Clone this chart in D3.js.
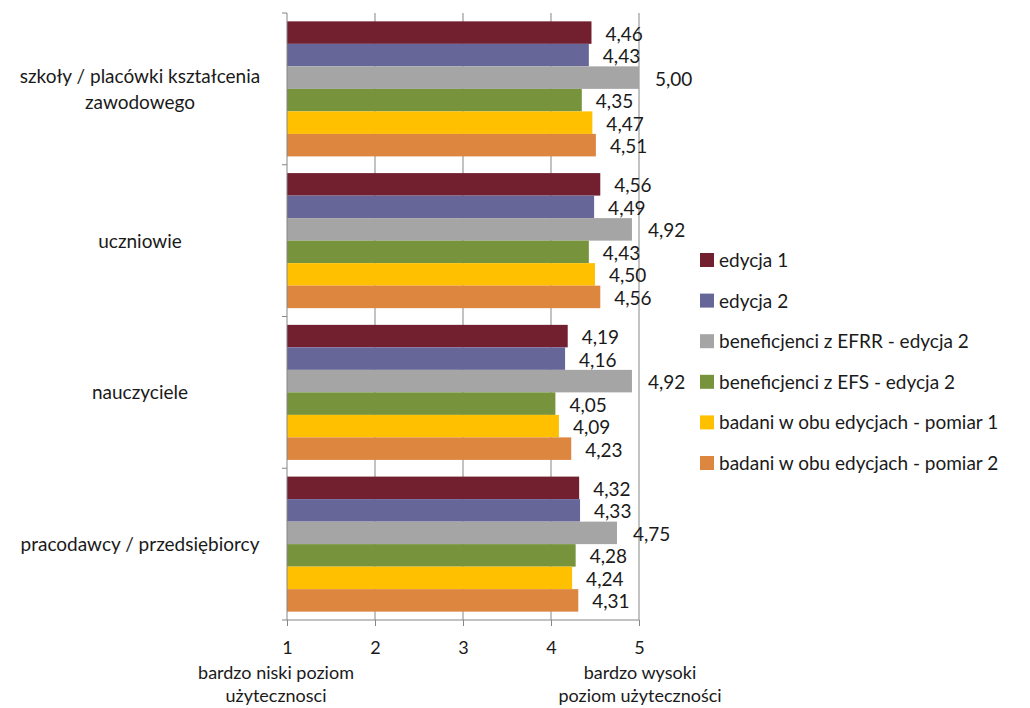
<!DOCTYPE html>
<html><head><meta charset="utf-8">
<script src="https://cdn.jsdelivr.net/npm/d3@7"></script>
<style>body{margin:0;background:#fff;} text{font-family:Lato, "Open Sans", sans-serif;fill:#1a1a1a;}</style>
</head><body>
<svg id="c" width="1030" height="708"></svg>
<script>
const categories = [["szkoły / placówki kształcenia","zawodowego"],["uczniowie"],["nauczyciele"],["pracodawcy / przedsiębiorcy"]];
const seriesNames = ["edycja 1","edycja 2","beneficjenci z EFRR - edycja 2","beneficjenci z EFS - edycja 2","badani w obu edycjach  - pomiar 1","badani w obu edycjach  - pomiar 2"];
const seriesColors = ["#722030","#666699","#A5A5A5","#77933C","#FFC000","#DD8640"];
const edycja1 = [4.46,4.56,4.19,4.32];
const edycja2 = [4.43,4.49,4.16,4.33];
const efrr = [5.00,4.92,4.92,4.75];
const efs = [4.35,4.43,4.05,4.28];
const pomiar1 = [4.47,4.50,4.09,4.24];
const pomiar2 = [4.51,4.56,4.23,4.31];
const xTicks = [1,2,3,4,5];
const series = [edycja1,edycja2,efrr,efs,pomiar1,pomiar2];

const FS = 19;
const svg = d3.select("#c");
const L=287,R=639,T=13,B=620;
const x = d3.scaleLinear().domain([1,5]).range([L,R]);
const y0 = d3.scaleBand().domain(d3.range(categories.length)).range([T,B]).paddingInner(0.11).paddingOuter(0.055);
const y1 = d3.scaleBand().domain(d3.range(series.length)).range([0,y0.bandwidth()]);

// gridlines
svg.append("g").selectAll("line").data(xTicks.slice(1)).join("line")
  .attr("x1",d=>x(d)).attr("x2",d=>x(d)).attr("y1",T).attr("y2",B)
  .attr("stroke","#868686").attr("stroke-width",1);

// bars
const g = svg.append("g");
categories.forEach((c,ci)=>{
  series.forEach((s,si)=>{
    const yy = y0(ci)+y1(si);
    g.append("rect").attr("x",x(1)).attr("y",yy).attr("width",x(s[ci])-x(1)).attr("height",y1.bandwidth())
      .attr("fill",seriesColors[si]);
    g.append("text").attr("x",x(s[ci])+ (si===2?16:14)).attr("y",yy+y1.bandwidth()/2+8)
      .attr("font-size",FS).text(d3.format(".2f")(s[ci]).replace(".",","));
  });
});

// x axis
const xa = svg.append("g").attr("transform",`translate(0,${B})`)
  .call(d3.axisBottom(x).tickValues(xTicks).tickSize(6).tickPadding(15).tickFormat(d=>d));
xa.select(".domain").attr("stroke","#868686").attr("d",`M${L},0H${R}`);
xa.selectAll(".tick line").attr("stroke","#868686");
xa.selectAll(".tick text").attr("font-size",18).attr("font-family","Lato").attr("fill","#1a1a1a");

// y axis
const bounds = d3.range(categories.length+1).map(i=>T+(B-T)*i/categories.length);
svg.append("line").attr("x1",L).attr("x2",L).attr("y1",T).attr("y2",B).attr("stroke","#868686");
svg.append("g").selectAll("line").data(bounds).join("line")
  .attr("x1",L-5).attr("x2",L).attr("y1",d=>d).attr("y2",d=>d).attr("stroke","#868686");

// category labels
categories.forEach((c,ci)=>{
  const cy = y0(ci)+y0.bandwidth()/2;
  const t = svg.append("text").attr("text-anchor","middle").attr("font-size",FS);
  c.forEach((line,li)=>{
    t.append("tspan").attr("x",140).attr("y",cy + (li-(c.length-1)/2)*26 + 7).text(line);
  });
});

// axis end labels
const lowLab=["bardzo niski poziom","użytecznosci"], highLab=["bardzo wysoki","poziom użyteczności"];
[[lowLab,276],[highLab,640]].forEach(([lines,cx])=>{
  const t=svg.append("text").attr("text-anchor","middle").attr("font-size",18);
  lines.forEach((l,i)=>t.append("tspan").attr("x",cx).attr("y",679+i*23).text(l));
});

// legend
const lg = svg.append("g");
seriesNames.forEach((n,i)=>{
  const yy = 260 + i*40.6;
  lg.append("rect").attr("x",700).attr("y",yy-7).attr("width",14).attr("height",14).attr("fill",seriesColors[i]);
  lg.append("text").attr("x",719).attr("y",yy+7).attr("font-size",FS).text(n);
});
</script>
</body></html>
